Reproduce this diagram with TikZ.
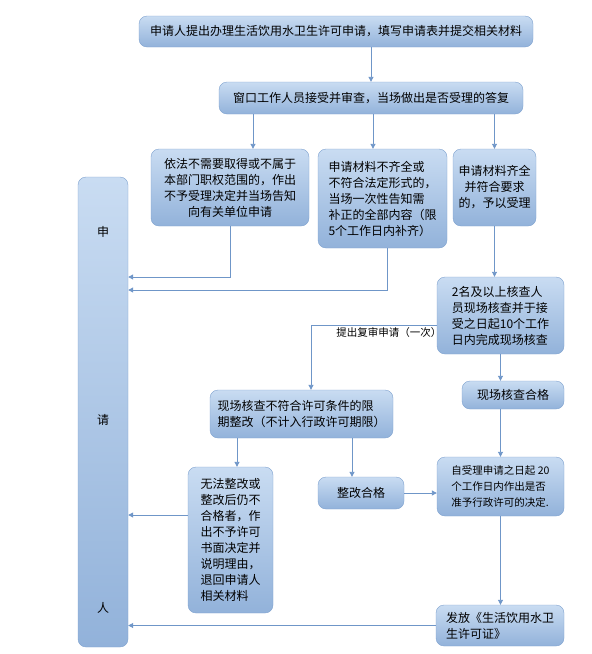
\documentclass[tikz,border=0pt]{standalone}
\usepackage{fontspec}
\setmainfont{Noto Sans CJK SC}
\usetikzlibrary{positioning,arrows.meta}
\definecolor{bdr}{HTML}{7FA2CF}
\definecolor{tp}{HTML}{C9DCF2}
\definecolor{bt}{HTML}{92B2DA}
\definecolor{lnc}{HTML}{6F96C8}

\begin{document}
\begin{tikzpicture}[x=1pt,y=-1pt,bx/.style={draw=bdr,rounded
corners=8pt,top color=tp,bottom color=bt,inner sep=2pt,text=black,
font=\fontsize{12}{16}\selectfont},ln/.style={draw=lnc,line
width=0.9pt,-{Triangle[length=5pt,width=5pt]}}]
\useasboundingbox (0,0) rectangle (592,654);
\node[bx,minimum width=394,minimum height=31] (apply) at (336,31.5)
  {申请人提出办理生活饮用水卫生许可申请，填写申请表并提交相关材料};
\node[bx,minimum width=304,minimum height=32] (window) at (371,98)
  {窗口工作人员接受并审查，当场做出是否受理的答复};
\node[bx,minimum width=158,minimum height=77,align=center] (reject) at (230,187.5)
  {依法不需要取得或不属于\\本部门职权范围的，作出\\不予受理决定并当场告知\\向有关单位申请};
\node[bx,minimum width=129,minimum height=99,align=left] (supply) at (382.5,198.5)
  {申请材料不齐全或\\不符合法定形式的，\\当场一次性告知需\\补正的全部内容（限\\5个工作日内补齐）};
\node[bx,minimum width=83,minimum height=77,align=center] (accept) at (494.5,187.5)
  {申请材料齐全\\并符合要求\\的，予以受理};
\node[bx,minimum width=50,minimum height=470,align=center] (person) at (103,412)
  {\rule{0pt}{26pt}申\\[172pt]请\\[172pt]人};
\node[bx,minimum width=127,minimum height=77,align=left] (check) at (500.5,315.5)
  {2名及以上核查人\\员现场核查并于接\\受之日起10个工作\\日内完成现场核查};
\node[bx,minimum width=102,minimum height=28] (pass) at (513,395)
  {现场核查合格};
\node[bx,minimum width=183,minimum height=48,align=left] (fix) at (301.5,414)
  {现场核查不符合许可条件的限\\期整改（不计入行政许可期限）};
\node[bx,minimum width=85,minimum height=146,align=left] (refuse) at (230.5,540)
  {无法整改或\\整改后仍不\\合格者，作\\出不予许可\\书面决定并\\说明理由，\\退回申请人\\相关材料};
\node[bx,minimum width=86,minimum height=32] (fixed) at (361,493)
  {整改合格};
\node[bx,minimum width=127,minimum height=59,align=left,
  font=\fontsize{10.5}{16}\selectfont] (decide) at (500.5,486.5)
  {自受理申请之日起 20\\个工作日内作出是否\\准予行政许可的决定.};
\node[bx,minimum width=128,minimum height=41,align=left] (issue) at (500,625.5)
  {发放《生活饮用水卫\\生许可证》};

\draw[ln] (window.north |- apply.south) -- (window.north);
\draw[ln] ([xshift=23pt]reject.north |- window.south) -- ([xshift=23pt]reject.north);
\draw[ln] ([xshift=-9.5pt]supply.north |- window.south) -- ([xshift=-9.5pt]supply.north);
\draw[ln] (accept.north |- window.south) -- (accept.north);
\draw[ln] (reject.south) |- (person.east |- 0,277);
\draw[ln] ([xshift=4.5pt]supply.south) |- (person.east |- 0,290);
\draw[ln] (accept.south) -- (accept.south |- check.north);
\draw[ln] ([yshift=-9.5pt]check.west) -| ([xshift=9.5pt]fix.north)
  node[pos=0,below left,xshift=6pt,yshift=-1pt,inner sep=1pt,
  font=\fontsize{10.5}{12}\selectfont] {提出复审申请（一次）};
\draw[ln] (check.south) -- (check.south |- pass.north);
\draw[ln] (decide.north |- pass.south) -- (decide.north);
\draw[ln] ([xshift=6.5pt]refuse.north |- fix.south) -- ([xshift=6.5pt]refuse.north);
\draw[ln] ([xshift=-9pt]fixed.north |- fix.south) -- ([xshift=-9pt]fixed.north);
\draw[ln] (fixed.east) -- (fixed.east -| decide.west);
\draw[ln] (decide.south) -- (decide.south |- issue.north);
\draw[ln] ([yshift=25pt]refuse.west) -- ([yshift=25pt]refuse.west -| person.east);
\draw[ln] (issue.west) -- (issue.west -| person.east);
\end{tikzpicture}
\end{document}
